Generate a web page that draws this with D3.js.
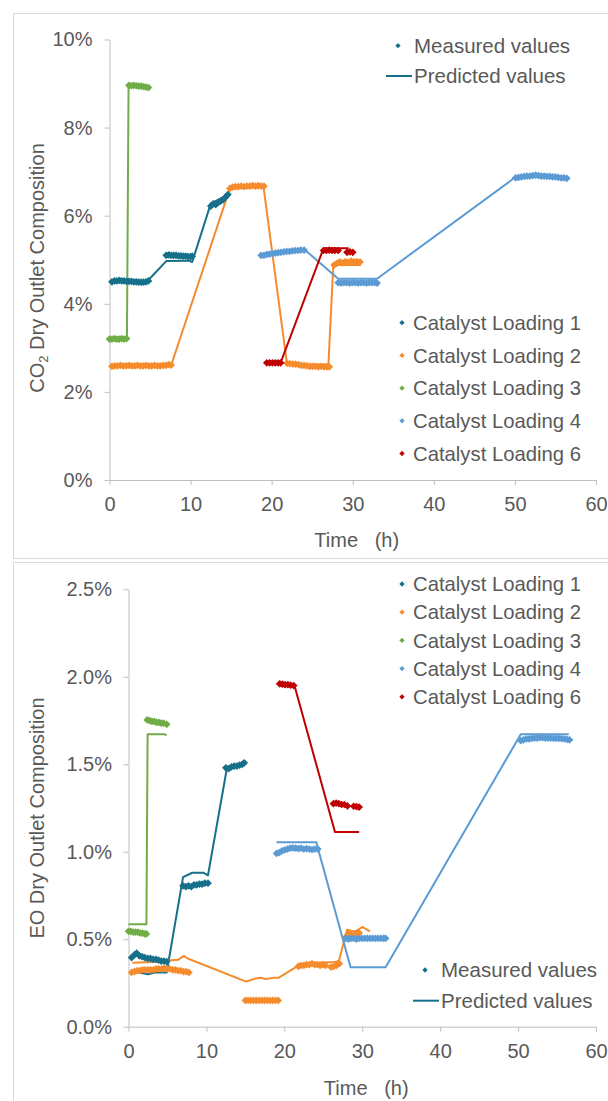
<!DOCTYPE html>
<html><head><meta charset="utf-8">
<script src="https://cdn.jsdelivr.net/npm/d3@7"></script>
<style>
body{margin:0;background:#fff}
svg{display:block}
text{font-family:"Liberation Sans",Arial,sans-serif;fill:#595959}
</style>
</head><body>
<svg id="c" width="608" height="1101"></svg>
<script>
// ---------------- DATA ----------------
const seriesNames = ["Catalyst Loading 1","Catalyst Loading 2","Catalyst Loading 3","Catalyst Loading 4","Catalyst Loading 6"];
const seriesColors = ["#17708A","#F68B2C","#70AD47","#5B9BD5","#C00000"];
const xTicks = [0,10,20,30,40,50,60];
const co2Ticks = [0,2,4,6,8,10];
const eoTicks = [0,0.5,1.0,1.5,2.0,2.5];
const legendMP = ["Measured values","Predicted values"];

// CO2 panel — measured [time h, %]
const co2Meas1 = [[0.3,4.50],[0.6,4.52],[0.9,4.52],[1.2,4.53],[1.5,4.52],[1.8,4.52],[2.1,4.51],[2.4,4.51],[2.7,4.51],[3.0,4.50],[3.3,4.50],[3.6,4.49],[3.9,4.49],[4.2,4.49],[4.5,4.50],[4.8,4.52],
  [7.0,5.10],[7.3,5.11],[7.6,5.10],[7.9,5.10],[8.2,5.10],[8.5,5.09],[8.8,5.09],[9.1,5.08],[9.4,5.08],[9.7,5.07],[10.0,5.07],[10.2,5.08],
  [12.5,6.22],[12.8,6.27],[13.1,6.25],[13.4,6.30],[13.7,6.33],[14.0,6.36],[14.3,6.42],[14.6,6.48]];
const co2Meas2 = [[0.3,2.58],[0.65,2.59],[1.0,2.59],[1.35,2.60],[1.7,2.59],[2.05,2.59],[2.4,2.60],[2.75,2.59],[3.1,2.59],[3.45,2.60],[3.8,2.59],[4.15,2.59],[4.5,2.60],[4.85,2.59],[5.2,2.59],[5.55,2.60],[5.9,2.59],[6.25,2.59],[6.6,2.60],[6.95,2.60],[7.3,2.62],[7.6,2.61],
  [14.85,6.62],[15.2,6.65],[15.55,6.66],[15.9,6.66],[16.25,6.67],[16.6,6.66],[16.95,6.67],[17.3,6.67],[17.65,6.68],[18.0,6.67],[18.35,6.68],[18.7,6.67],[19.05,6.67],
  [21.9,2.65],[22.25,2.64],[22.6,2.63],[22.95,2.63],[23.3,2.62],[23.65,2.60],[24.0,2.60],[24.35,2.59],[24.7,2.58],[25.05,2.58],[25.4,2.58],[25.75,2.57],[26.1,2.58],[26.45,2.57],[26.8,2.57],[27.1,2.57],
  [27.7,4.88],[28.05,4.92],[28.4,4.95],[28.75,4.93],[29.1,4.96],[29.45,4.94],[29.8,4.97],[30.15,4.95],[30.5,4.96],[30.9,4.95]];
const co2Meas3 = [[0.0,3.20],[0.3,3.20],[0.6,3.21],[0.9,3.20],[1.2,3.20],[1.5,3.21],[1.8,3.20],[2.1,3.21],
  [2.4,8.96],[2.7,8.95],[3.0,8.96],[3.3,8.95],[3.6,8.94],[3.9,8.94],[4.2,8.93],[4.5,8.92],[4.8,8.91]];
const co2Meas4 = [[18.7,5.10],[19.05,5.10],[19.4,5.12],[19.75,5.13],[20.1,5.14],[20.45,5.15],[20.8,5.16],[21.15,5.17],[21.5,5.18],[21.85,5.19],[22.2,5.19],[22.55,5.20],[22.9,5.21],[23.25,5.21],[23.6,5.22],[24.0,5.22],
  [28.2,4.48],[28.55,4.47],[28.9,4.48],[29.25,4.48],[29.6,4.47],[29.95,4.48],[30.3,4.48],[30.65,4.47],[31.0,4.48],[31.35,4.48],[31.7,4.47],[32.05,4.48],[32.4,4.48],[32.75,4.48],[33.0,4.47],
  [50.1,6.86],[50.45,6.87],[50.8,6.88],[51.15,6.89],[51.5,6.90],[51.85,6.90],[52.2,6.91],[52.55,6.92],[52.9,6.91],[53.25,6.90],[53.6,6.90],[53.95,6.89],[54.3,6.89],[54.65,6.88],[55.0,6.88],[55.35,6.87],[55.7,6.86],[56.05,6.86],[56.4,6.85]];
const co2Meas6 = [[19.4,2.66],[19.75,2.66],[20.1,2.66],[20.45,2.66],[20.8,2.66],[21.1,2.66],
  [26.4,5.21],[26.75,5.21],[27.1,5.22],[27.45,5.21],[27.8,5.21],[28.2,5.21],[29.3,5.17],[29.65,5.18],[30.0,5.17]];

// CO2 panel — predicted
const co2Pred1 = [[0.3,4.50],[4.6,4.50],[7.0,4.97],[9.8,4.98],[10.2,4.95],[12.5,6.28],[14.7,6.48]];
const co2Pred2 = [[0.3,2.58],[7.6,2.60],[14.85,6.62],[19.0,6.65],[21.9,2.62],[27.0,2.62],[27.6,4.88],[31.0,4.88]];
const co2Pred3 = [[0.0,3.20],[2.15,3.20],[2.35,8.95],[4.8,8.93]];
const co2Pred4 = [[18.7,5.08],[24.0,5.24],[28.2,4.57],[33.0,4.57],[50.1,6.88],[56.4,6.88]];
const co2Pred6 = [[19.4,2.66],[21.1,2.66],[26.4,5.26],[29.5,5.26]];

// EO panel — measured
const eoMeas1 = [[0.4,0.395],[0.75,0.41],[1.05,0.42],[1.4,0.405],[1.75,0.40],[2.1,0.395],[2.45,0.39],[2.8,0.39],[3.15,0.385],[3.5,0.385],[3.85,0.38],[4.2,0.375],[4.55,0.375],[4.9,0.372],
  [7.0,0.805],[7.35,0.80],[7.7,0.805],[8.05,0.80],[8.4,0.81],[8.75,0.81],[9.1,0.815],[9.45,0.815],[9.8,0.82],[10.2,0.82],
  [12.5,1.48],[12.85,1.475],[13.2,1.485],[13.55,1.49],[13.9,1.49],[14.25,1.495],[14.6,1.50],[14.85,1.508]];
const eoMeas2 = [[0.4,0.31],[0.75,0.315],[1.1,0.32],[1.45,0.32],[1.8,0.325],[2.15,0.325],[2.5,0.325],[2.85,0.325],[3.2,0.325],[3.55,0.33],[3.9,0.33],[4.25,0.33],[4.6,0.335],[4.95,0.33],[5.3,0.33],[5.65,0.325],[6.0,0.325],[6.35,0.32],[6.7,0.32],[7.05,0.315],[7.4,0.315],[7.75,0.31],
  [15.0,0.15],[15.35,0.15],[15.7,0.15],[16.05,0.15],[16.4,0.15],[16.75,0.15],[17.1,0.15],[17.45,0.15],[17.8,0.15],[18.15,0.15],[18.5,0.15],[18.85,0.15],[19.2,0.15],
  [21.8,0.345],[22.15,0.35],[22.5,0.35],[22.85,0.355],[23.2,0.355],[23.55,0.36],[23.9,0.355],[24.25,0.355],[24.6,0.35],[24.95,0.355],[25.3,0.35],[26.0,0.34],[26.35,0.345],[26.7,0.35],[27.05,0.36],
  [27.85,0.51],[28.2,0.53],[28.55,0.525],[28.9,0.52],[29.25,0.53],[29.6,0.535]];
const eoMeas3 = [[0.0,0.545],[0.3,0.545],[0.6,0.54],[0.9,0.54],[1.2,0.54],[1.5,0.535],[1.8,0.535],[2.1,0.53],[2.3,0.53],
  [2.4,1.753],[2.7,1.75],[3.0,1.745],[3.3,1.745],[3.6,1.74],[3.9,1.74],[4.2,1.735],[4.5,1.735],[4.9,1.728]];
const eoMeas4 = [[19.0,0.99],[19.35,0.995],[19.7,1.005],[20.05,1.01],[20.4,1.015],[20.75,1.02],[21.1,1.022],[21.45,1.02],[21.8,1.018],[22.15,1.02],[22.5,1.015],[22.85,1.018],[23.2,1.015],[23.55,1.012],[23.9,1.015],[24.3,1.015],
  [27.85,0.505],[28.2,0.50],[28.55,0.505],[28.9,0.505],[29.25,0.50],[29.6,0.505],[29.95,0.505],[30.3,0.505],[30.65,0.505],[31.0,0.505],[31.35,0.505],[31.7,0.505],[32.05,0.505],[32.4,0.505],[32.75,0.505],[33.0,0.505],
  [50.35,1.635],[50.7,1.64],[51.05,1.645],[51.4,1.645],[51.75,1.648],[52.1,1.65],[52.45,1.65],[52.8,1.652],[53.15,1.652],[53.5,1.65],[53.85,1.65],[54.2,1.65],[54.55,1.648],[54.9,1.648],[55.25,1.648],[55.6,1.646],[55.95,1.645],[56.3,1.642],[56.6,1.64]];
const eoMeas6 = [[19.4,1.96],[19.75,1.958],[20.1,1.955],[20.45,1.955],[20.8,1.952],[21.2,1.95],
  [26.3,1.275],[26.65,1.278],[27.0,1.275],[27.35,1.27],[27.7,1.27],[28.1,1.262],[28.9,1.26],[29.25,1.258],[29.6,1.255]];

// EO panel — predicted
const eoPred1 = [[0.6,0.32],[1.3,0.31],[2.5,0.30],[3.4,0.31],[4.9,0.31],[7.0,0.855],[8.2,0.88],[9.6,0.88],[10.2,0.865],[12.6,1.47],[14.8,1.50]];
const eoPred2 = [[0.5,0.365],[3.0,0.37],[4.5,0.375],[5.5,0.38],[6.4,0.383],[7.1,0.405],[7.6,0.39],[15.1,0.258],[16.3,0.275],[17.0,0.28],[17.6,0.272],[18.6,0.28],[19.3,0.28],[22.0,0.355],[24.0,0.365],[26.5,0.37],[27.0,0.375],[27.85,0.52],[28.06,0.555],[28.9,0.545],[29.3,0.55],[30.0,0.57],[31.0,0.545]];
const eoPred3 = [[0.0,0.585],[2.3,0.585],[2.45,1.672],[4.6,1.672],[4.9,1.665]];
const eoPred4 = [[19.0,1.054],[24.1,1.054],[28.5,0.34],[33.0,0.34],[50.35,1.672],[56.5,1.672]];
const eoPred6 = [[19.4,1.955],[21.3,1.95],[26.5,1.113],[29.6,1.113]];

// ---------------- DRAW ----------------
const svg = d3.select("#c");
const gray = "#BFBFBF";

function diamond(size){ return d3.symbol(d3.symbolSquare, size)(); }

function panel(cfg){
  const g = svg.append("g");
  g.append("rect").attr("x",cfg.box[0]).attr("y",cfg.box[1]).attr("width",cfg.box[2]).attr("height",cfg.box[3])
    .attr("fill","none").attr("stroke","#D9D9D9").attr("stroke-width",1);

  const x = d3.scaleLinear().domain([0,60]).range(cfg.xr);
  const y = d3.scaleLinear().domain([0,cfg.ymax]).range(cfg.yr);

  const xa = g.append("g").attr("transform",`translate(0,${cfg.yr[0]})`)
    .call(d3.axisBottom(x).tickValues(xTicks).tickSize(5).tickSizeOuter(0).tickPadding(12));
  const ya = g.append("g").attr("transform",`translate(${cfg.xr[0]},0)`)
    .call(d3.axisLeft(y).tickValues(cfg.ticks).tickFormat(cfg.fmt).tickSize(5).tickSizeOuter(0).tickPadding(cfg.ypad));
  [xa,ya].forEach(a=>{
    a.select(".domain").attr("stroke",gray);
    a.selectAll(".tick line").attr("stroke",gray);
    a.selectAll("text").attr("font-size",20).attr("fill","#595959").attr("font-family","Liberation Sans, Arial, sans-serif");
  });

  const line = d3.line().x(d=>x(d[0])).y(d=>y(d[1]));
  cfg.pred.forEach((p,i)=>{
    g.append("path").datum(p).attr("d",line).attr("fill","none")
      .attr("stroke",seriesColors[i]).attr("stroke-width",2).attr("stroke-linejoin","round");
  });
  const sym = diamond(30);
  cfg.meas.forEach((m,i)=>{
    g.append("g").selectAll("path").data(m).join("path")
      .attr("d",sym)
      .attr("transform",d=>`translate(${x(d[0])},${y(d[1])}) rotate(45)`)
      .attr("fill",seriesColors[i]);
  });

  // axis titles
  const yt = g.append("text").attr("transform",`translate(${cfg.ytitle[0]},${cfg.ytitle[1]}) rotate(-90)`)
    .attr("text-anchor","middle").attr("dy","0.35em").attr("font-size",20);
  cfg.ytitleParts.forEach(p=>{
    const ts = yt.append("tspan").text(p.t);
    if(p.sub) ts.attr("font-size",13).attr("dy","0.3em");
    if(p.after) ts.attr("dy","-0.2em");
  });
  g.append("text").attr("x",(cfg.xr[0]+cfg.xr[1])/2+4).attr("y",cfg.xtitleY).attr("dy","0.35em")
    .attr("text-anchor","middle").attr("font-size",20).style("white-space","pre").text("Time   (h)");

  // catalyst legend
  const lg = g.append("g");
  seriesNames.forEach((n,i)=>{
    const yy = cfg.leg[1] + i*cfg.leg[2];
    lg.append("path").attr("d",diamond(14)).attr("transform",`translate(${cfg.leg[0]},${yy}) rotate(45)`).attr("fill",seriesColors[i]);
    lg.append("text").attr("x",cfg.leg[0]+11).attr("y",yy).attr("dy","0.35em").attr("font-size",20.3).text(n);
  });
  // measured/predicted legend
  const m = cfg.mp;
  g.append("path").attr("d",diamond(14)).attr("transform",`translate(${m[0]},${m[1]}) rotate(45)`).attr("fill",seriesColors[0]);
  g.append("text").attr("x",m[0]+16).attr("y",m[1]).attr("dy","0.35em").attr("font-size",20.5).text(legendMP[0]);
  g.append("line").attr("x1",m[0]-12).attr("x2",m[0]+14).attr("y1",m[2]).attr("y2",m[2]).attr("stroke",seriesColors[0]).attr("stroke-width",2);
  g.append("text").attr("x",m[0]+16).attr("y",m[2]).attr("dy","0.35em").attr("font-size",20.5).text(legendMP[1]);
}

panel({
  box:[13.5,13.5,620,545], xr:[109.5,596], yr:[480,39.5], ymax:10, ticks:co2Ticks,
  fmt:d=>d+"%", ypad:12,
  meas:[co2Meas1,co2Meas2,co2Meas3,co2Meas4,co2Meas6],
  pred:[co2Pred1,co2Pred2,co2Pred3,co2Pred4,co2Pred6],
  ytitle:[37,268], ytitleParts:[{t:"CO"},{t:"2",sub:true},{t:" Dry Outlet Composition",after:true}],
  xtitleY:540, leg:[402,322.7,32.7], mp:[398,45.7,76]
});
panel({
  box:[13.5,562.5,620,600], xr:[128.5,596], yr:[1026.7,589.3], ymax:2.5, ticks:eoTicks,
  fmt:d=>d.toFixed(1)+"%", ypad:11.5,
  meas:[eoMeas1,eoMeas2,eoMeas3,eoMeas4,eoMeas6],
  pred:[eoPred1,eoPred2,eoPred3,eoPred4,eoPred6],
  ytitle:[37,818], ytitleParts:[{t:"EO Dry Outlet Composition"}],
  xtitleY:1088, leg:[402,584,28.2], mp:[425,970,1000.7]
});
</script>
</body></html>
